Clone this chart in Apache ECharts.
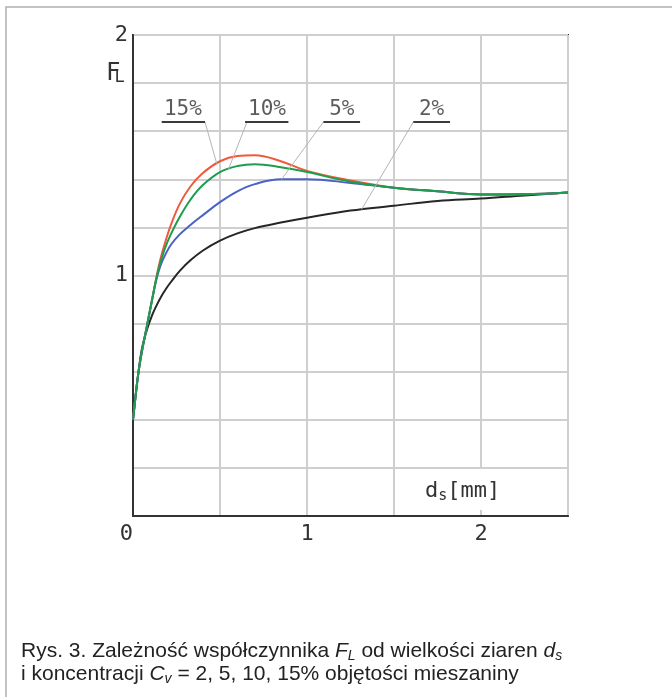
<!DOCTYPE html>
<html>
<head>
<meta charset="utf-8">
<script src="https://cdn.jsdelivr.net/npm/echarts@6/dist/echarts.min.js"></script>
<style>html,body{margin:0;padding:0;background:#fff;}#c{width:672px;height:697px;}</style>
</head>
<body>
<div id="c"></div>
<script>
// ---- data ----
var xs   = [0, 0.015, 0.03, 0.05, 0.08, 0.11, 0.135, 0.16, 0.19, 0.22, 0.27, 0.33, 0.4, 0.5, 0.6, 0.7, 0.85, 1.0, 1.25, 1.5, 1.75, 2.0, 2.25, 2.5];
var cv15 = [0.40, 0.50, 0.59, 0.68, 0.79, 0.90, 0.995, 1.075, 1.15, 1.215, 1.30, 1.37, 1.425, 1.475, 1.497, 1.50, 1.475, 1.435, 1.395, 1.365, 1.35, 1.337, 1.338, 1.345];
var cv10 = [0.40, 0.50, 0.59, 0.68, 0.79, 0.90, 0.99, 1.06, 1.125, 1.175, 1.245, 1.315, 1.375, 1.43, 1.455, 1.463, 1.45, 1.43, 1.39, 1.365, 1.35, 1.337, 1.338, 1.345];
var cv5  = [0.40, 0.50, 0.59, 0.68, 0.79, 0.90, 0.985, 1.045, 1.093, 1.13, 1.172, 1.21, 1.25, 1.305, 1.35, 1.38, 1.40, 1.40, 1.385, 1.365, 1.35, 1.337, 1.338, 1.345];
var cv2  = [0.40, 0.50, 0.59, 0.69, 0.775, 0.835, 0.875, 0.91, 0.945, 0.975, 1.02, 1.063, 1.103, 1.145, 1.175, 1.197, 1.22, 1.24, 1.27, 1.29, 1.31, 1.32, 1.333, 1.345];
var xTickLabels = ['0', '1', '2'];
var yTickLabels = ['1', '2'];
var curveNames  = ['15%', '10%', '5%', '2%'];

// ---- annotation anchors (data units) ----
var labelCenterX = [0.287, 0.77, 1.20, 1.716];
var labelY       = 1.688;
var underlineY   = 1.638;
var underlineX0  = [0.165, 0.644, 1.094, 1.611];
var underlineX1  = [0.414, 0.893, 1.305, 1.822];
var leaderFromX  = [0.414, 0.655, 1.094, 1.611];
var leaderToX    = [0.481, 0.548, 0.854, 1.314];
var leaderToY    = [1.466, 1.44, 1.40, 1.275];

function pairs(ys) { return xs.map(function (x, i) { return [x, ys[i]]; }); }

var cad = '"DejaVu Sans Mono", monospace';
var sans = '"Liberation Sans", Arial, sans-serif';
var chart = echarts.init(document.getElementById('c'), null, { renderer: 'canvas' });

var underlines = curveNames.map(function (n, i) {
  return [{ coord: [underlineX0[i], underlineY] }, { coord: [underlineX1[i], underlineY] }];
});
var leaders = curveNames.map(function (n, i) {
  return [{ coord: [leaderFromX[i], underlineY] }, { coord: [leaderToX[i], leaderToY[i]] }];
});

function isNear(v, arr) {
  for (var i = 0; i < arr.length; i++) { if (Math.abs(v - parseFloat(arr[i])) < 1e-6) return arr[i]; }
  return null;
}

function curve(name, ys, color, z) {
  return { type: 'line', name: name, data: pairs(ys), smooth: 0.4, symbol: 'none', lineStyle: { color: color, width: 2 }, z: z };
}

chart.setOption({
  animation: false,
  backgroundColor: '#fff',
  grid: { left: 133, top: 35, right: 104, bottom: 181, show: true, borderColor: '#333', borderWidth: 2, backgroundColor: 'transparent' },
  xAxis: {
    type: 'value', min: 0, max: 2.5, interval: 0.5,
    axisLine: { show: true, lineStyle: { color: '#333', width: 2 } },
    axisTick: { show: false },
    splitLine: { show: true, lineStyle: { color: '#cfcfcf', width: 2 } },
    axisLabel: {
      margin: 7, color: '#333', fontFamily: cad, fontSize: 22, alignMinLabel: 'right', showMaxLabel: false,
      formatter: function (v) { var t = isNear(v, xTickLabels); return t === null ? '' : t; }
    }
  },
  yAxis: {
    type: 'value', min: 0, max: 2, interval: 0.2,
    axisLine: { show: true, lineStyle: { color: '#333', width: 2 } },
    axisTick: { show: false },
    splitLine: { show: true, lineStyle: { color: '#cfcfcf', width: 2 } },
    axisLabel: {
      margin: 5, color: '#333', fontFamily: cad, fontSize: 22,
      formatter: function (v) { var t = isNear(v, yTickLabels); return t === null ? '' : t; }
    }
  },
  series: [
    curve('2%', cv2, '#262626', 3),
    curve('15%', cv15, '#ee5a3c', 3),
    curve('5%', cv5, '#4a62c6', 3),
    curve('10%', cv10, '#1e9e4c', 4),
    {
      type: 'scatter', name: 'labels', symbolSize: 0, z: 5, silent: true,
      data: curveNames.map(function (n, i) { return { name: n, value: [labelCenterX[i], labelY] }; }),
      label: { show: true, position: 'inside', formatter: '{b}', color: '#333', fontFamily: cad, fontSize: 21 },
      markLine: {
        silent: true, symbol: ['none', 'none'], label: { show: false },
        data: leaders,
        lineStyle: { color: '#b5b5b5', width: 1, type: 'solid' }
      }
    },
    {
      type: 'scatter', name: 'underlines', data: [], z: 5, silent: true,
      markLine: {
        silent: true, symbol: ['none', 'none'], label: { show: false },
        data: underlines,
        lineStyle: { color: '#3a3a3a', width: 2, type: 'solid' }
      }
    }
  ],
  graphic: [
    { type: 'rect', shape: { x: 6, y: 7, width: 700, height: 720 }, style: { fill: null, stroke: '#b0b0b0', lineWidth: 1.5 }, z: -10, silent: true },
    {
      type: 'text', left: 106, top: 62, z: 10,
      style: {
        text: '{f|F}{l|L}',
        rich: {
          f: { fontFamily: cad, fontSize: 24, fill: '#333' },
          l: { fontFamily: cad, fontSize: 17, fill: '#333', verticalAlign: 'bottom', padding: [8, 0, 0, -6] }
        }
      }
    },
    {
      type: 'text', left: 421, top: 469, z: 10,
      style: {
        text: '{d|d}{s|s}{d|[mm]}',
        backgroundColor: '#fff', padding: [10, 4, 6, 4],
        rich: {
          d: { fontFamily: cad, fontSize: 22, fill: '#333' },
          s: { fontFamily: cad, fontSize: 15, fill: '#333', padding: [10, 0, 0, 0] }
        }
      }
    },
    {
      type: 'text', left: 21, top: 640, z: 10,
      style: {
        text: 'Rys. 3. Zależność współczynnika {i|F}{sub|L} od wielkości ziaren {i|d}{sub|s}\ni koncentracji {i|C}{sub|v} = 2, 5, 10, 15% objętości mieszaniny',
        fontFamily: sans, fontSize: 21, fill: '#222', lineHeight: 23,
        rich: {
          i: { fontFamily: sans, fontSize: 21, fontStyle: 'italic', fill: '#222', lineHeight: 23 },
          sub: { fontFamily: sans, fontSize: 14, fontStyle: 'italic', fill: '#222', padding: [9, 0, 0, 0], lineHeight: 23 }
        }
      }
    }
  ]
});
</script>
</body>
</html>
